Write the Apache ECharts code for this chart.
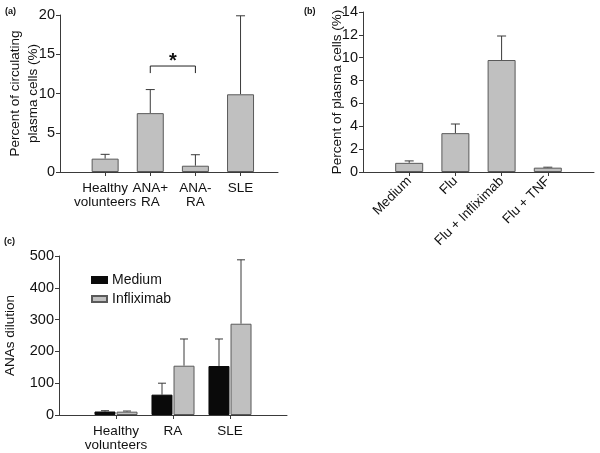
<!DOCTYPE html>
<html>
<head>
<meta charset="utf-8">
<script src="https://cdn.jsdelivr.net/npm/echarts@6/dist/echarts.min.js"></script>
<style>
  html, body { margin: 0; padding: 0; background: #fff; }
  #chart { width: 600px; height: 453px; }
</style>
</head>
<body>
<div id="chart"></div>
<script>
  // (a) circulating plasma cells
  const aCategories = ['Healthy\nvolunteers', 'ANA+\nRA', 'ANA-\nRA', 'SLE'];
  const aValues = [1.7, 7.5, 0.8, 9.9];
  const aUpper = [2.25, 10.5, 2.2, 19.9];
  const aTicks = [0, 5, 10, 15, 20];
  const aSigPair = [1, 2];          // ANA+ RA vs ANA- RA
  const aSigLevel = [12.6, 13.5, 14.3]; // drop end, bracket, star

  // (b) plasma cells in culture
  const bCategories = ['Medium', 'Flu', 'Flu + Infliximab', 'Flu + TNF'];
  const bValues = [0.8, 3.4, 9.8, 0.38];
  const bUpper = [0.97, 4.2, 11.9, 0.42];
  const bTicks = [0, 2, 4, 6, 8, 10, 12, 14];

  // (c) ANAs dilution
  const cCategories = ['Healthy\nvolunteers', 'RA', 'SLE'];
  const cSeries = ['Medium', 'Infliximab'];
  const cMedium = [11, 64, 154];
  const cMediumUpper = [13.5, 100, 239];
  const cInfliximab = [10.5, 155, 287];
  const cInfliximabUpper = [12.5, 239, 488];
  const cTicks = [0, 100, 200, 300, 400, 500];

  const font = 'Liberation Sans, Arial, sans-serif';
  const axisColor = '#3a3a3a';
  const grayFill = '#c0c0c0';
  const barBorder = '#5a5a5a';

  let chart = echarts.init(document.getElementById('chart'));

  function pad(arr, v) { return [v].concat(arr, [v]); }

  function errorBars(offset, capW) {
    return function (params, api) {
      let x = api.value(0);
      let p0 = api.coord([x, api.value(1)]);
      let p1 = api.coord([x, api.value(2)]);
      let cx = p0[0] + offset;
      let st = { stroke: axisColor, lineWidth: 1 };
      return {
        type: 'group',
        children: [
          { type: 'line', shape: { x1: cx, y1: p0[1], x2: cx, y2: p1[1] }, style: st },
          { type: 'line', shape: { x1: cx - capW / 2, y1: p1[1], x2: cx + capW / 2, y2: p1[1] }, style: st }
        ]
      };
    };
  }

  function yAxisCfg(grid, ticks, name, gap) {
    return {
      type: 'value', gridIndex: grid,
      min: ticks[0], max: ticks[ticks.length - 1], interval: ticks[1] - ticks[0],
      name: name, nameLocation: 'middle', nameGap: gap, nameMoveOverlap: false,
      nameTextStyle: { fontFamily: font, fontSize: 13.5, color: '#111', lineHeight: 18 },
      axisLine: { show: true, lineStyle: { color: axisColor } },
      axisTick: { show: true, length: 4, lineStyle: { color: axisColor } },
      axisLabel: { fontFamily: font, fontSize: 14.5, color: '#111', margin: 5 },
      splitLine: { show: false }
    };
  }

  const catLabel = { fontFamily: font, fontSize: 13.5, color: '#111', lineHeight: 14, margin: 9 };

  // label slot 0 is a blank placeholder at the y axis
  const aLabelValues = [0, 1, 2, 3, 4];

  let option = {
    animation: false,
    graphic: [
      { type: 'text', left: 5, top: 7, style: { text: '(a)', font: 'bold 9px ' + font, fill: '#111' } },
      { type: 'text', left: 304, top: 7, style: { text: '(b)', font: 'bold 9px ' + font, fill: '#111' } },
      { type: 'text', left: 4, top: 237, style: { text: '(c)', font: 'bold 9px ' + font, fill: '#111' } }
    ],
    legend: {
      data: cSeries, orient: 'vertical', left: 91, top: 273, padding: 0,
      itemWidth: 15, itemHeight: 6, itemGap: 5, icon: 'rect',
      textStyle: { fontFamily: font, fontSize: 14, color: '#111' }
    },
    grid: [
      { left: 60, top: 15, width: 218, height: 157 },
      { left: 363, top: 12, width: 231, height: 160 },
      { left: 58, top: 256, width: 229, height: 159 }
    ],
    xAxis: [
      {
        type: 'value', gridIndex: 0, min: 0, max: 4.83, interval: 1,
        axisLine: { show: true, lineStyle: { color: axisColor } },
        axisTick: { show: true, length: 4, customValues: [1, 2, 3, 4], lineStyle: { color: axisColor } },
        axisLabel: Object.assign({}, catLabel, {
          customValues: aLabelValues,
          formatter: function (v) { return aCategories[Math.round(v) - 1] || ' '; }
        }),
        splitLine: { show: false }
      },
      {
        type: 'category', gridIndex: 1, boundaryGap: false, data: pad(bCategories, ''),
        axisLine: { show: true, lineStyle: { color: axisColor } },
        axisTick: { show: true, length: 4, interval: function (i, v) { return v !== ''; }, lineStyle: { color: axisColor } },
        axisLabel: Object.assign({}, catLabel, { rotate: 45, interval: 0, margin: 7 })
      },
      {
        type: 'category', gridIndex: 2, boundaryGap: false, data: pad(cCategories, ''),
        axisLine: { show: true, lineStyle: { color: axisColor } },
        axisTick: { show: true, length: 4, interval: function (i, v) { return v !== ''; }, lineStyle: { color: axisColor } },
        axisLabel: Object.assign({}, catLabel, { interval: 0 })
      }
    ],
    yAxis: [
      yAxisCfg(0, aTicks, 'Percent of circulating\nplasma cells (%)', 17.5),
      yAxisCfg(1, bTicks, 'Percent of plasma cells (%)', 17),
      yAxisCfg(2, cTicks, 'ANAs dilution', 40)
    ],
    series: [
      {
        name: 'a', type: 'bar', xAxisIndex: 0, yAxisIndex: 0, barWidth: 27,
        itemStyle: { color: grayFill, borderColor: barBorder, borderWidth: 1 },
        data: aValues.map(function (v, i) { return [i + 1, v]; }),
        z: 2
      },
      {
        type: 'custom', xAxisIndex: 0, yAxisIndex: 0, renderItem: errorBars(0, 9),
        data: aValues.map(function (v, i) { return [i + 1, v, aUpper[i]]; }), z: 1
      },
      {
        type: 'custom', xAxisIndex: 0, yAxisIndex: 0,
        renderItem: function (params, api) {
          let l = api.coord([api.value(0), api.value(2)]);
          let r = api.coord([api.value(1), api.value(3)]);
          let d = api.coord([api.value(0), api.value(4)]);
          let s = api.coord([(api.value(0) + api.value(1)) / 2, api.value(5)]);
          return {
            type: 'group',
            children: [
              { type: 'polyline', shape: { points: [[l[0], d[1]], [l[0], l[1]], [r[0], r[1]], [r[0], d[1]]] },
                style: { stroke: '#222', lineWidth: 1, fill: null } },
              { type: 'text', x: s[0], y: s[1] + 2,
                style: { text: '*', font: 'bold 20px ' + font, fill: '#111', align: 'center', verticalAlign: 'middle' } }
            ]
          };
        },
        data: [[aSigPair[0] + 1, aSigPair[1] + 1, aSigLevel[1], aSigLevel[1], aSigLevel[0], aSigLevel[2]]]
      },
      {
        name: 'b', type: 'bar', xAxisIndex: 1, yAxisIndex: 1, barWidth: 28,
        itemStyle: { color: grayFill, borderColor: barBorder, borderWidth: 1 },
        data: pad(bValues, '-'), z: 2
      },
      {
        type: 'custom', xAxisIndex: 1, yAxisIndex: 1, renderItem: errorBars(0, 9),
        data: bValues.map(function (v, i) { return [i + 1, v, bUpper[i]]; }), z: 1
      },
      {
        name: cSeries[0], type: 'bar', xAxisIndex: 2, yAxisIndex: 2, barWidth: 21, barGap: '5%',
        itemStyle: { color: '#0a0a0a', borderColor: '#0a0a0a', borderWidth: 1 },
        data: pad(cMedium, '-'), z: 2
      },
      {
        name: cSeries[1], type: 'bar', xAxisIndex: 2, yAxisIndex: 2, barWidth: 21, barGap: '5%',
        itemStyle: { color: grayFill, borderColor: barBorder, borderWidth: 1 },
        data: pad(cInfliximab, '-'), z: 2
      },
      {
        type: 'custom', xAxisIndex: 2, yAxisIndex: 2, renderItem: errorBars(-11, 8),
        data: cMedium.map(function (v, i) { return [i + 1, v, cMediumUpper[i]]; }), z: 1
      },
      {
        type: 'custom', xAxisIndex: 2, yAxisIndex: 2, renderItem: errorBars(11, 8),
        data: cInfliximab.map(function (v, i) { return [i + 1, v, cInfliximabUpper[i]]; }), z: 1
      }
    ]
  };

  chart.setOption(option);
</script>
</body>
</html>
